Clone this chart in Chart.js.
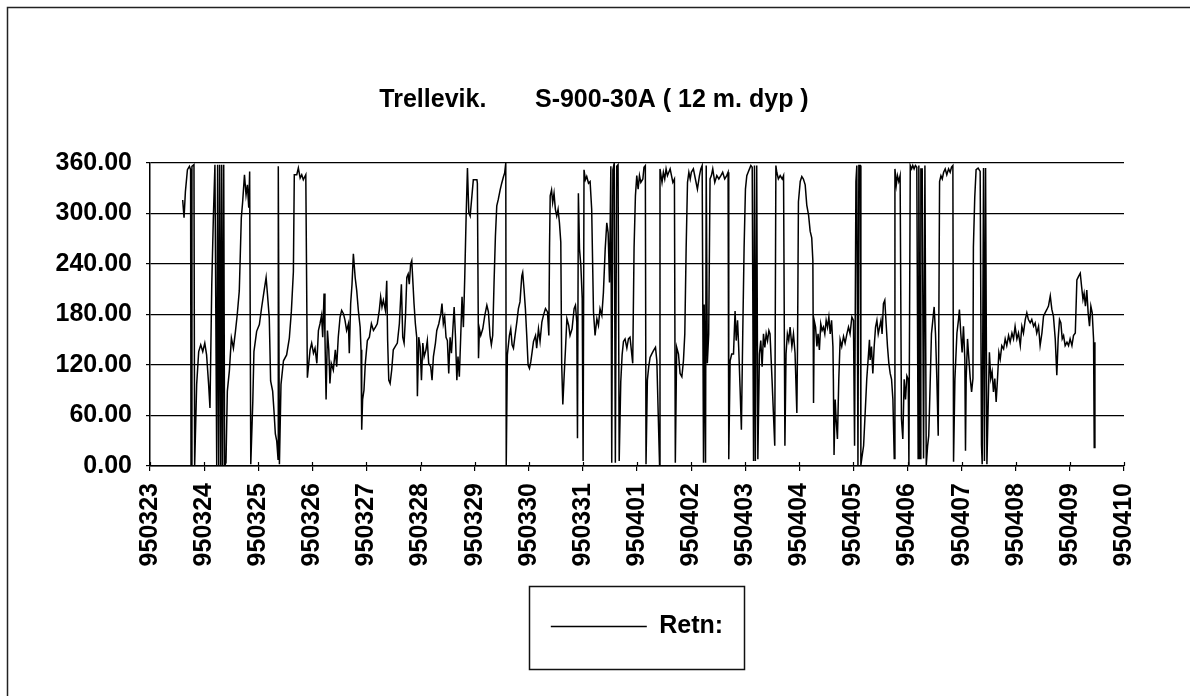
<!DOCTYPE html>
<html>
<head>
<meta charset="utf-8">
<title>Trellevik S-900-30A</title>
<script src="https://cdn.jsdelivr.net/npm/chart.js@4.4.0/dist/chart.umd.min.js"></script>
<style>
  html, body { margin: 0; padding: 0; background: #fff; }
</style>
</head>
<body>
<canvas id="retnChart" width="1190" height="696"></canvas>
<script>
// dates on the x axis, one tick per day (24 h)
const dateLabels = ['950323', '950324', '950325', '950326', '950327', '950328', '950329',
  '950330', '950331', '950401', '950402', '950403', '950404', '950405', '950406',
  '950407', '950408', '950409', '950410'];

// hours since 950323 00:00
const hours = [
  14.5, 15.1, 15.7, 16.6, 17.5, 18.0, 18.2, 18.6, 19.5, 19.8,
  20.7, 21.6, 22.5, 23.4, 24.3, 25.1, 26.0, 26.6, 27.4, 28.1,
  28.8, 29.6, 30.0, 30.5, 30.9, 31.4, 31.8, 32.2, 32.7, 33.1,
  33.7, 34.3, 35.2, 36.1, 37.0, 37.9, 38.7, 39.6, 40.5, 41.1,
  41.9, 42.6, 43.2, 43.8, 44.2, 44.7, 45.6, 46.1, 47.3, 48.5,
  49.5, 50.6, 51.5, 52.1, 52.9, 53.5, 54.4, 55.0, 55.6, 56.2,
  56.8, 56.9, 57.4, 58.1, 59.2, 60.6, 61.8, 62.7, 63.6, 64.0,
  65.1, 65.8, 66.6, 67.3, 68.0, 69.1, 69.8,
  71.0, 71.7, 72.5, 73.2, 74.0, 74.7, 75.4, 76.1, 76.6, 77.2,
  77.6, 78.1, 78.7, 79.3, 79.8, 80.4, 81.3, 82.2, 82.8, 83.5,
  84.3, 85.0, 85.8, 86.5, 87.2, 88.0, 88.4, 89.0, 89.6, 90.2,
  91.0, 91.7, 92.4, 93.2, 93.6, 93.9, 94.3, 94.9, 95.5, 96.4,
  97.3, 98.2, 99.1, 100.0, 100.8, 101.7, 102.3, 102.9, 103.5, 104.4,
  105.0, 105.4, 105.9, 106.5, 107.2, 107.9, 108.8, 109.7, 110.6, 111.5,
  112.1, 112.7, 113.3, 113.9, 114.5, 115.0, 115.6, 116.1, 116.5, 117.1,
  117.7, 118.3, 118.6, 119.2, 119.8, 120.4, 121.0, 121.6, 122.4, 123.0,
  123.6, 124.5, 125.1, 125.7, 126.6, 127.2, 128.1, 129.0, 129.5, 130.1,
  130.7, 131.3, 131.9, 132.5, 133.1, 133.7, 134.3, 134.9, 135.5, 136.1,
  136.6, 137.2, 137.8, 138.4, 139.0, 139.6, 140.2, 140.8, 141.4,
  142.0, 143.4, 145.0, 145.2, 145.7, 146.1, 146.7, 147.6, 148.5, 149.4,
  150.1, 150.8, 151.4, 152.0, 152.6, 153.2, 153.8, 154.5, 155.3, 156.0,
  156.8, 157.3, 157.8, 158.0, 158.5, 159.4, 160.0, 160.6, 161.2, 161.9,
  162.7, 163.4, 164.1, 164.9, 165.3, 165.9, 166.5, 167.1, 167.7, 168.3,
  168.9, 169.5, 170.1, 171.0, 171.5, 172.3, 173.0, 173.8, 174.5, 175.4,
  176.3, 176.9, 177.2, 177.5, 178.1, 178.6, 179.2, 179.8, 180.4, 181.0,
  181.6, 182.2, 182.6, 183.1, 183.7, 184.3, 184.9, 185.7, 186.3, 187.2,
  188.1, 188.7, 189.3, 189.6, 190.0, 190.5, 191.1, 191.7, 192.1, 192.5,
  193.1, 193.7, 194.5, 195.2, 195.9, 196.7, 197.4, 198.2, 198.9, 199.6,
  200.4, 201.1, 201.9, 202.6, 203.2, 203.8, 204.4, 204.8, 205.3, 205.9,
  206.4, 207.0, 207.6, 208.1, 208.8, 209.4, 210.0, 210.7, 211.5, 212.2,
  212.9, 214.1, 214.7, 215.3, 215.9, 216.5, 217.1, 217.7, 218.6, 219.1,
  219.7, 220.0, 220.6, 221.2, 221.8, 222.5, 223.3, 224.2, 224.8, 225.4,
  226.0, 226.2, 227.1, 227.7, 228.3, 228.9, 229.5, 230.1, 230.7, 231.3,
  231.9, 232.6, 233.0, 233.6, 234.4, 235.1, 235.9, 236.6, 237.2, 237.8,
  238.4, 239.0, 239.6, 240.1, 241.0, 241.9, 242.8, 243.7, 244.3, 244.9,
  245.5, 245.8, 246.4, 246.7, 247.2, 247.8, 248.4, 249.0, 249.6, 250.5,
  251.4, 252.3, 253.2, 254.0, 254.9, 255.8, 256.4, 256.7, 257.3, 258.0,
  258.8, 259.5, 260.0, 260.6, 261.1, 261.7, 262.3, 262.9, 263.5, 264.1,
  264.7, 265.3, 265.9, 266.5, 267.1, 267.7, 268.1, 268.5, 269.1, 269.6,
  270.3, 270.9, 271.5, 272.1, 272.7, 273.3, 273.9, 274.5, 275.0, 275.9,
  276.5, 277.1, 277.6, 278.0, 278.7, 279.5, 280.4, 281.0, 281.6, 282.1,
  282.7, 283.3,
  283.9, 284.7, 285.4, 286.1, 286.9, 287.2, 287.6, 288.4, 289.1, 289.8,
  290.6, 291.3, 292.1, 292.8, 293.5, 294.0, 294.3, 294.6, 295.2, 295.8,
  296.3, 296.9, 297.5, 298.1, 298.7, 299.3, 299.9, 300.5, 301.1, 301.7,
  302.3, 302.9, 303.1, 303.4, 303.9, 304.3, 304.9, 305.5, 306.1, 306.8,
  307.6, 308.3, 309.1, 309.8, 310.5, 311.3, 312.0, 312.5, 313.1, 313.5,
  314.0, 314.4, 315.0, 315.3, 315.7, 316.5, 317.2, 317.9, 318.5, 319.1,
  319.4, 320.0, 320.6, 321.2, 321.8, 322.4, 323.0, 323.6, 324.2, 324.7,
  325.3, 325.9, 326.5, 327.1, 327.7, 328.3, 328.9, 329.5, 330.1, 330.4,
  331.0, 331.5, 332.1, 332.7, 333.3, 333.9, 334.5, 335.1, 335.7, 336.3,
  336.6, 337.2, 337.8, 338.3, 338.9, 339.5, 340.1, 340.7, 341.0, 341.6,
  341.9, 342.5, 343.1, 343.7, 344.3, 344.9, 345.4, 346.0, 346.6, 347.2,
  347.8, 348.4, 349.0, 349.6, 350.2, 350.8, 351.4, 352.0, 352.7, 353.4,
  354.2, 354.9, 355.5, 356.1, 356.4, 357.0,
  357.9, 358.6, 359.0, 359.6, 360.2, 360.8, 361.4, 361.7, 362.0, 362.6,
  363.2, 363.8, 364.4, 365.0, 365.2, 365.8, 366.4, 367.3, 368.2, 368.8,
  369.1, 369.7, 370.1, 370.6, 371.2, 371.7, 372.3, 372.9, 373.5, 374.1,
  374.7, 375.3, 375.9, 376.5, 377.1, 377.8, 378.6, 379.3, 380.0, 380.8,
  381.5, 382.3, 383.0, 383.7, 384.5, 385.2, 386.0, 386.7, 387.4, 388.2,
  388.9, 389.6, 390.4, 391.1, 391.9, 392.6, 393.3, 394.1, 394.8, 395.6,
  396.3, 397.0, 397.8, 398.5, 399.3, 400.0, 400.7, 401.5, 402.2, 402.8,
  403.4, 404.0, 404.6, 405.2, 405.9, 406.7, 407.4, 408.1, 408.9, 409.6,
  410.4, 411.1, 411.8, 412.6, 413.2, 413.8, 414.3, 414.9, 415.5, 416.1,
  416.7, 417.3, 417.9, 418.5, 418.8, 419.1
];

// direction (degrees)
const retn = [
  316, 295, 326, 352, 356, 352, 0, 356, 358, 0,
  97, 136, 144, 136, 146, 132, 97, 69, 216, 295,
  358, 0, 358, 0, 358, 0, 358, 0, 358, 0,
  4, 89, 113, 152, 140, 160, 180, 208, 295, 314,
  346, 322, 334, 307, 350, 2, 77, 136, 160, 168,
  188, 208, 224, 204, 176, 101, 89, 65, 38, 30,
  8, 356, 2, 97, 125, 132, 152, 184, 231, 346,
  346, 354, 342, 346, 340, 346, 105,
  138, 146, 134, 140, 122, 161, 169, 179, 153, 205,
  153, 79, 161, 138, 98, 122, 114, 138, 118, 153,
  177, 185, 181, 173, 161, 169, 134, 193, 216, 252,
  224, 208, 185, 165, 138, 43, 79, 90, 122, 149,
  153, 169, 161, 165, 169, 185, 201, 189, 197, 185,
  220, 149, 102, 98, 114, 138, 142, 146, 169, 216,
  153, 146, 177, 224, 228, 216, 240, 244, 224, 193,
  169, 153, 83, 153, 142, 102, 146, 130, 138, 149,
  122, 118, 102, 130, 146, 161, 169, 181, 193, 169,
  177, 153, 149, 110, 153, 134, 161, 189, 153, 102,
  130, 106, 153, 201, 165, 224, 295, 354, 301,
  297, 340, 340, 336, 128, 163, 155, 163, 179, 191,
  183, 155, 144, 155, 218, 273, 309, 317, 328, 336,
  344, 348, 360, 0, 132, 155, 163, 144, 140, 155,
  171, 187, 195, 226, 230, 210, 187, 155, 120, 116,
  124, 136, 148, 155, 140, 163, 148, 171, 179, 187,
  183, 155, 258, 321, 328, 313, 324, 305, 297, 305,
  289, 266, 120, 73, 108, 140, 175, 167, 155, 163,
  187, 191, 171, 33, 324, 258, 238, 199, 6, 352,
  340, 344, 336, 338, 305, 183, 155, 175, 167, 187,
  179, 206, 258, 289, 277, 218, 356, 4, 352, 360,
  4, 356, 358, 6, 100, 132, 148, 151, 140, 151,
  153, 122, 259, 321, 345, 329, 345, 337, 341, 355,
  357, 2, 102, 118, 129, 133, 137, 141, 125, 63,
  2, 353, 337, 349, 341, 353, 345, 349, 353, 345,
  337, 341, 4, 141, 133, 110, 106, 125, 157, 259,
  337, 349, 341, 349, 353, 341, 329, 345, 353, 357,
  4, 192, 4, 357, 122, 157, 341, 345, 353, 337,
  345, 341, 345, 349, 341, 345, 349, 8, 125, 133,
  133, 184, 149, 173, 141, 94, 43, 157, 259, 329,
  345, 349, 353, 357, 355, 6, 357, 6, 357, 8,
  133, 149, 118, 157, 141, 157, 149, 161, 157, 102,
  63, 24, 357, 349, 341, 345, 341, 345, 24, 133,
  157, 149,
  165, 142, 157, 134, 63, 142, 314, 338, 344, 341,
  334, 310, 298, 279, 271, 244, 75, 173, 165, 142,
  157, 138, 169, 161, 165, 157, 173, 165, 177, 157,
  173, 142, 103, 13, 79, 56, 32, 103, 150, 142,
  154, 146, 157, 165, 157, 177, 173, 24, 338, 357,
  1, 357, 357, 1, 9, 24, 63, 103, 126, 150,
  126, 142, 110, 142, 165, 173, 157, 165, 173, 157,
  193, 197, 169, 142, 122, 110, 103, 79, 9, 353,
  334, 345, 338, 345, 56, 32, 103, 79, 107, 103,
  1, 357, 353, 357, 353, 357, 355, 9, 357, 9,
  353, 353, 9, 357, 1, 24, 36, 95, 157, 173,
  189, 157, 103, 36, 338, 345, 341, 349, 353, 346,
  353, 349, 355, 357, 5, 103,
  158, 174, 186, 158, 135, 166, 127, 18, 104, 151,
  127, 104, 88, 104, 260, 319, 352, 354, 350, 25,
  2, 354, 6, 354, 2, 65, 135, 104, 112, 88,
  104, 76, 104, 135, 127, 143, 139, 151, 143, 155,
  147, 158, 151, 166, 151, 158, 143, 166, 158, 174,
  182, 174, 170, 174, 166, 170, 158, 166, 143, 158,
  178, 182, 186, 190, 202, 186, 178, 151, 108, 151,
  174, 170, 151, 155, 143, 147, 143, 151, 143, 155,
  158, 221, 225, 229, 213, 198, 205, 190, 209, 182,
  166, 190, 182, 151, 22, 147
];

const boldFont = { family: "'Liberation Sans', Arial, sans-serif", size: 25, weight: 'bold' };

// white page with the scanned frame on the left and top
const frame = {
  id: 'frame',
  beforeDraw(chart) {
    const ctx = chart.ctx;
    ctx.save();
    ctx.fillStyle = '#fff';
    ctx.fillRect(0, 0, chart.width, chart.height);
    ctx.strokeStyle = '#222';
    ctx.lineWidth = 1.5;
    ctx.beginPath();
    ctx.moveTo(7.5, chart.height);
    ctx.lineTo(7.5, 7.5);
    ctx.lineTo(chart.width, 7.5);
    ctx.stroke();
    ctx.restore();
  }
};

// x tick marks cross the axis, and a box around the legend
const decorations = {
  id: 'decorations',
  afterDraw(chart) {
    const ctx = chart.ctx;
    const xs = chart.scales.x;
    ctx.save();
    ctx.strokeStyle = '#000';
    ctx.lineWidth = 1.2;
    ctx.beginPath();
    xs.ticks.forEach(t => {
      const px = Math.round(xs.getPixelForValue(t.value)) + 0.5;
      ctx.moveTo(px, chart.chartArea.bottom - 4);
      ctx.lineTo(px, chart.chartArea.bottom);
    });
    ctx.stroke();
    const hb = chart.legend.legendHitBoxes[0];
    if (hb) {
      const cy = hb.top + hb.height / 2;
      ctx.strokeStyle = '#111';
      ctx.lineWidth = 1.5;
      ctx.strokeRect(Math.round(hb.left - 22) + 0.5, Math.round(cy - 41) + 0.5, Math.round(hb.width + 43), 83);
    }
    ctx.restore();
  }
};

new Chart(document.getElementById('retnChart').getContext('2d'), {
  type: 'line',
  data: {
    datasets: [{
      label: 'Retn:',
      data: hours.map((h, i) => ({ x: h, y: retn[i] })),
      borderColor: '#000', backgroundColor: '#000', borderWidth: 1.5,
      pointRadius: 0, tension: 0, fill: false
    }]
  },
  options: {
    responsive: false,
    animation: false,
    layout: { padding: { left: 0, right: 2, top: 0, bottom: 47 } },
    plugins: {
      title: {
        display: true, text: 'Trellevik.       S-900-30A ( 12 m. dyp )', color: '#000',
        font: boldFont, padding: { top: 85, bottom: 48 }
      },
      legend: {
        position: 'bottom', fullSize: false,
        labels: { usePointStyle: true, pointStyle: 'line', pointStyleWidth: 96, color: '#000', font: boldFont, padding: 10 }
      },
      tooltip: { enabled: false }
    },
    scales: {
      x: {
        type: 'linear', min: 0, max: 432,
        afterFit(scale) { scale.height = 138; },
        ticks: {
          stepSize: 24, autoSkip: false, minRotation: 90, maxRotation: 90, padding: 12,
          color: '#000', font: boldFont,
          callback: v => dateLabels[Math.round(v / 24)]
        },
        grid: { drawOnChartArea: false, color: '#000', tickLength: 5, lineWidth: 1.2 },
        border: { color: '#000', width: 1.5 }
      },
      y: {
        min: 0, max: 360,
        afterFit(scale) { scale.width = 150; },
        ticks: { stepSize: 60, padding: 14, color: '#000', font: boldFont, callback: v => v.toFixed(2) },
        grid: { color: '#000', lineWidth: 1.2, tickLength: 4 },
        border: { color: '#000', width: 1.5 }
      },
      // empty right-hand margin so the title centres on the page
      margin: {
        position: 'right', min: 0, max: 1,
        afterFit(scale) { scale.width = 64; },
        ticks: { display: false },
        grid: { display: false },
        border: { display: false }
      }
    }
  },
  plugins: [frame, decorations]
});
</script>
</body>
</html>
